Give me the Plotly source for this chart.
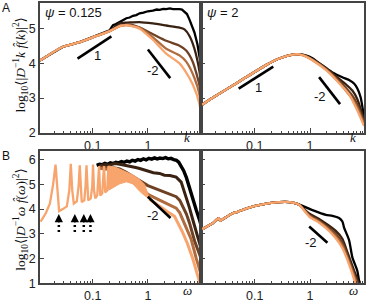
import numpy as np
import plotly.graph_objects as go

# ---------------- colours of the five series (black -> light orange) ----------
COLORS = ["#000000", "#3a2213", "#6e4124", "#b06b3e", "#f7a46d"]

# ---------------- Panel A, psi = 0.125 : x = log10 k, y = log10 <|D^-1 k f(k)|^2>
al_black_x = [-1.96, -1.538, -1.236, -0.933, -0.693, -0.66, -0.633, -0.58, -0.52, -0.45, -0.39, -0.33, -0.27, -0.21, -0.149, -0.08, 0.0, 0.091, 0.16, 0.213, 0.28, 0.334, 0.40, 0.454, 0.52, 0.575, 0.62, 0.665, 0.71, 0.756, 0.80, 0.846, 0.90, 0.937, 0.973]
al_black_y = [4.08, 4.48, 4.61, 4.79, 4.95, 5.04, 5.10, 5.13, 5.19, 5.24, 5.30, 5.32, 5.37, 5.39, 5.44, 5.46, 5.50, 5.52, 5.55, 5.54, 5.57, 5.56, 5.58, 5.56, 5.57, 5.56, 5.55, 5.49, 5.42, 5.26, 5.10, 4.89, 4.55, 4.20, 3.85]
al_dbrown_x = [-1.96, -1.538, -1.236, -0.933, -0.693, -0.6, -0.511, -0.42, -0.33, -0.149, 0.091, 0.334, 0.575, 0.665, 0.756, 0.846, 0.937, 0.973]
al_dbrown_y = [4.08, 4.48, 4.61, 4.79, 4.93, 5.05, 5.15, 5.17, 5.18, 5.19, 5.15, 5.09, 5.03, 4.98, 4.79, 4.42, 3.77, 3.30]
al_brown_x = [-1.96, -1.538, -1.236, -0.933, -0.693, -0.511, -0.39, -0.33, -0.149, 0.091, 0.334, 0.575, 0.696, 0.816, 0.937, 0.973]
al_brown_y = [4.08, 4.48, 4.61, 4.79, 4.93, 5.08, 5.11, 5.12, 5.03, 4.84, 4.65, 4.51, 4.37, 4.04, 3.37, 2.90]
al_lbrown_x = [-1.96, -1.538, -1.236, -0.933, -0.693, -0.511, -0.39, -0.33, -0.149, 0.091, 0.334, 0.575, 0.696, 0.846, 0.937, 0.973]
al_lbrown_y = [4.08, 4.48, 4.61, 4.79, 4.93, 5.07, 5.10, 5.09, 5.03, 4.75, 4.42, 4.23, 4.05, 3.58, 3.10, 2.50]
al_orange_x = [-1.96, -1.538, -1.236, -0.933, -0.693, -0.511, -0.39, -0.33, -0.149, 0.091, 0.334, 0.575, 0.665, 0.816, 0.937, 0.973]
al_orange_y = [4.08, 4.48, 4.61, 4.79, 4.93, 5.07, 5.10, 5.09, 5.00, 4.68, 4.28, 4.00, 3.81, 3.39, 2.83, 2.35]

# ---------------- Panel A, psi = 2
ar_black_x = [-1.947, -1.757, -1.276, -0.796, -0.556, -0.317, -0.196, -0.08, 0.043, 0.223, 0.403, 0.583, 0.703, 0.793, 0.853, 0.913, 0.973]
ar_black_y = [2.81, 3.01, 3.48, 3.95, 4.14, 4.25, 4.26, 4.23, 4.15, 3.93, 3.74, 3.60, 3.52, 3.42, 3.28, 3.02, 2.45]
ar_dbrown_x = [-1.947, -1.757, -1.276, -0.796, -0.556, -0.317, -0.196, -0.08, 0.043, 0.284, 0.464, 0.643, 0.763, 0.853, 0.973]
ar_dbrown_y = [2.81, 3.01, 3.48, 3.95, 4.14, 4.25, 4.26, 4.22, 4.12, 3.88, 3.63, 3.40, 3.22, 2.97, 2.38]
ar_brown_x = [-1.947, -1.757, -1.276, -0.796, -0.556, -0.317, -0.196, -0.08, 0.043, 0.284, 0.464, 0.643, 0.763, 0.853, 0.973]
ar_brown_y = [2.81, 3.01, 3.48, 3.95, 4.14, 4.25, 4.26, 4.21, 4.11, 3.85, 3.59, 3.30, 3.07, 2.82, 2.30]
ar_lbrown_x = [-1.947, -1.757, -1.276, -0.796, -0.556, -0.317, -0.196, -0.08, 0.043, 0.284, 0.464, 0.643, 0.763, 0.853, 0.973]
ar_lbrown_y = [2.81, 3.01, 3.48, 3.95, 4.14, 4.25, 4.26, 4.21, 4.10, 3.83, 3.56, 3.22, 2.97, 2.72, 2.25]
ar_orange_x = [-1.947, -1.757, -1.276, -0.796, -0.556, -0.317, -0.196, -0.08, 0.043, 0.284, 0.464, 0.703, 0.853, 0.973]
ar_orange_y = [2.81, 3.01, 3.48, 3.95, 4.14, 4.25, 4.26, 4.20, 4.09, 3.81, 3.53, 3.11, 2.64, 2.20]

# ---------------- Panel B, psi = 0.125 : x = log10 omega, y = log10 <|D^-1 w f(w)|^2>
bl_black_x = [-0.93, -0.88, -0.83, -0.78, -0.73, -0.68, -0.63, -0.58, -0.53, -0.48, -0.43, -0.38, -0.33, -0.28, -0.23, -0.18, -0.13, -0.08, -0.03, 0.02, 0.07, 0.12, 0.17, 0.22, 0.27, 0.32, 0.37, 0.42, 0.47, 0.52, 0.56, 0.60, 0.65, 0.70, 0.76, 0.82, 0.88, 0.94, 0.973]
bl_black_y = [5.77, 5.81, 5.79, 5.85, 5.81, 5.87, 5.84, 5.89, 5.87, 5.92, 5.89, 5.94, 5.91, 5.97, 5.94, 6.00, 5.97, 6.03, 5.99, 6.05, 6.02, 6.07, 6.03, 6.06, 6.04, 6.08, 6.03, 6.05, 6.00, 5.97, 5.90, 5.75, 5.55, 5.27, 4.80, 4.34, 3.95, 3.55, 3.30]
bl_dbrown_x = [-0.886, -0.78, -0.693, -0.6, -0.511, -0.4, -0.3, -0.22, -0.149, -0.07, 0.0, 0.1, 0.213, 0.3, 0.4, 0.515, 0.605, 0.65, 0.696, 0.756, 0.816, 0.9, 0.968]
bl_dbrown_y = [5.74, 5.80, 5.78, 5.84, 5.81, 5.77, 5.72, 5.68, 5.64, 5.58, 5.55, 5.47, 5.44, 5.37, 5.36, 5.29, 5.09, 4.80, 4.50, 4.05, 3.57, 2.95, 2.39]
bl_brown_x = [-0.886, -0.78, -0.693, -0.6, -0.511, -0.4, -0.3, -0.149, 0.0, 0.1, 0.213, 0.3, 0.4, 0.515, 0.58, 0.636, 0.7, 0.756, 0.85, 0.968]
bl_brown_y = [5.70, 5.70, 5.68, 5.66, 5.62, 5.50, 5.35, 5.15, 4.95, 4.86, 4.76, 4.68, 4.60, 4.50, 4.35, 4.10, 3.80, 3.44, 2.70, 1.99]
bl_lbrown_x = [-0.886, -0.78, -0.693, -0.6, -0.511, -0.4, -0.3, -0.149, 0.0, 0.213, 0.4, 0.515, 0.58, 0.636, 0.7, 0.786, 0.88, 0.968]
bl_lbrown_y = [5.65, 5.63, 5.60, 5.56, 5.49, 5.30, 5.12, 4.89, 4.60, 4.36, 4.15, 4.04, 3.85, 3.57, 3.25, 2.78, 2.00, 1.34]
bl_orange_x = [-1.947, -1.851, -1.779, -1.719, -1.676, -1.647, -1.611, -1.544, -1.471, -1.426, -1.399, -1.372, -1.344, -1.29, -1.257, -1.236, -1.218, -1.2, -1.154, -1.131, -1.114, -1.1, -1.082, -1.037, -1.009, -0.995, -0.977, -0.955, -0.919, -0.886, -0.865, -0.828, -0.796, -0.774, -0.738, -0.716, -0.693]
bl_orange_y = [3.49, 3.84, 4.22, 5.01, 5.80, 4.75, 3.92, 4.00, 4.11, 4.75, 5.83, 4.75, 4.22, 4.31, 4.94, 5.77, 4.75, 4.28, 4.35, 4.94, 5.77, 4.75, 4.35, 4.43, 4.94, 5.80, 4.75, 4.43, 4.55, 5.74, 4.55, 4.63, 5.74, 4.67, 4.75, 5.74, 4.80]
bl_band_upper_x = [-0.716, -0.6, -0.511, -0.39, -0.271, -0.149, -0.06, 0.03]
bl_band_upper_y = [5.74, 5.70, 5.62, 5.50, 5.38, 5.20, 5.00, 4.42]
bl_band_lower_x = [-0.716, -0.693, -0.6, -0.511, -0.39, -0.271, -0.149, -0.06, 0.03]
bl_band_lower_y = [4.76, 4.80, 4.92, 5.02, 5.10, 5.02, 4.72, 4.55, 4.40]
bl_orange_tail_x = [0.03, 0.213, 0.35, 0.484, 0.634, 0.72, 0.816, 0.937, 0.973]
bl_orange_tail_y = [4.40, 4.10, 3.90, 3.71, 3.05, 2.60, 1.99, 1.07, 0.70]

# ---------------- Panel B, psi = 2
br_black_x = [-1.947, -1.757, -1.649, -1.623, -1.546, -1.397, -1.307, -1.156, -0.857, -0.556, -0.376, -0.196, 0.043, 0.284, 0.403, 0.523, 0.583, 0.613, 0.703, 0.763, 0.853, 0.883, 0.92]
br_black_y = [3.19, 3.43, 3.63, 3.52, 3.63, 3.83, 3.89, 4.02, 4.19, 4.28, 4.28, 4.18, 3.96, 3.77, 3.73, 3.64, 3.50, 3.25, 2.75, 2.05, 1.50, 1.12, 0.85]
br_dbrown_x = [-1.947, -1.757, -1.649, -1.623, -1.546, -1.397, -1.307, -1.156, -0.857, -0.556, -0.376, -0.196, -0.017, 0.163, 0.284, 0.464, 0.583, 0.644, 0.793, 0.883, 0.9]
br_dbrown_y = [3.19, 3.43, 3.63, 3.52, 3.63, 3.83, 3.89, 4.02, 4.19, 4.28, 4.28, 4.18, 3.82, 3.60, 3.42, 3.12, 2.80, 2.44, 1.52, 1.00, 0.90]
br_brown_x = [-1.947, -1.757, -1.649, -1.623, -1.546, -1.397, -1.307, -1.156, -0.857, -0.556, -0.376, -0.196, -0.017, 0.163, 0.284, 0.464, 0.583, 0.733, 0.823, 0.88]
br_brown_y = [3.19, 3.43, 3.63, 3.52, 3.63, 3.83, 3.89, 4.02, 4.19, 4.28, 4.28, 4.18, 3.77, 3.53, 3.33, 3.00, 2.65, 1.75, 1.20, 0.90]
br_lbrown_x = [-1.947, -1.757, -1.649, -1.623, -1.546, -1.397, -1.307, -1.156, -0.857, -0.556, -0.376, -0.196, -0.017, 0.163, 0.284, 0.464, 0.583, 0.703, 0.793, 0.85]
br_lbrown_y = [3.19, 3.43, 3.63, 3.52, 3.63, 3.83, 3.89, 4.02, 4.19, 4.28, 4.28, 4.17, 3.73, 3.49, 3.28, 2.90, 2.52, 1.85, 1.30, 0.95]
br_orange_x = [-1.947, -1.757, -1.649, -1.623, -1.546, -1.397, -1.307, -1.156, -0.857, -0.556, -0.376, -0.196, -0.017, 0.163, 0.284, 0.464, 0.583, 0.673, 0.763, 0.82]
br_orange_y = [3.19, 3.43, 3.63, 3.52, 3.63, 3.83, 3.89, 4.02, 4.19, 4.28, 4.28, 4.17, 3.70, 3.45, 3.24, 2.82, 2.42, 1.95, 1.38, 0.95]

# ---------------- reference slope segments (endpoints in data units)
slope_al1_x, slope_al1_y = [-1.277, -0.662], [4.138, 4.775]
slope_al2_x, slope_al2_y = [0.001, 0.406], [4.399, 3.576]
slope_ar1_x, slope_ar1_y = [-1.289, -0.664], [3.275, 3.904]
slope_ar2_x, slope_ar2_y = [0.163, 0.541], [3.604, 2.826]
slope_bl2_x, slope_bl2_y = [0.0, 0.412], [4.498, 3.640]
slope_br2_x, slope_br2_y = [-0.016, 0.313], [3.296, 2.640]

# resonance arrows in panel B (log10 omega)
arrow_x = [-1.616, -1.326, -1.163, -1.042]
arrow_head_y, arrow_tail_y = 3.80, 3.40
dots_top_y, dots_bottom_y = 3.36, 2.98

# axis ticks
x_major = [0.1, 1]
x_major_text = ["0.1", "1"]
x_minor = [0.02, 0.03, 0.04, 0.05, 0.06, 0.07, 0.08, 0.09,
           0.2, 0.3, 0.4, 0.5, 0.6, 0.7, 0.8, 0.9,
           2, 3, 4, 5, 6, 7, 8, 9]
ya_ticks = [2, 3, 4, 5]
yb_ticks = [1, 2, 3, 4, 5, 6]
x_range = [-1.96, 0.973]
ya_range = [2, 5.74]
yb_range = [1, 6.33]

W, H = 366, 304
fig = go.Figure()


def line(xlog, y, color, xa, ya, width=2.3, shape="linear"):
    fig.add_trace(go.Scatter(
        x=np.power(10.0, np.array(xlog)), y=y, mode="lines",
        line=dict(color=color, width=width, shape=shape, smoothing=0.6 if shape == "spline" else None),
        xaxis=xa, yaxis=ya, showlegend=False, hoverinfo="skip"))


# Panel A left
for (xs, ys), c in zip([(al_black_x, al_black_y), (al_dbrown_x, al_dbrown_y), (al_brown_x, al_brown_y),
                        (al_lbrown_x, al_lbrown_y), (al_orange_x, al_orange_y)], COLORS):
    line(xs, ys, c, "x", "y", shape="linear" if c == "#000000" else "spline")
# Panel A right
for (xs, ys), c in zip([(ar_black_x, ar_black_y), (ar_dbrown_x, ar_dbrown_y), (ar_brown_x, ar_brown_y),
                        (ar_lbrown_x, ar_lbrown_y), (ar_orange_x, ar_orange_y)], COLORS):
    line(xs, ys, c, "x2", "y2", shape="spline")
# Panel B left
line(bl_black_x, bl_black_y, COLORS[0], "x3", "y3", width=3.4)
line(bl_dbrown_x, bl_dbrown_y, COLORS[1], "x3", "y3", width=3)
line(bl_brown_x, bl_brown_y, COLORS[2], "x3", "y3", width=3)
line(bl_lbrown_x, bl_lbrown_y, COLORS[3], "x3", "y3", width=3)
band_x = list(bl_band_upper_x) + list(bl_band_lower_x[::-1])
band_y = list(bl_band_upper_y) + list(bl_band_lower_y[::-1])
fig.add_trace(go.Scatter(x=np.power(10.0, np.array(band_x)), y=band_y, mode="lines", fill="toself",
                         fillcolor=COLORS[4], line=dict(color=COLORS[4], width=1),
                         xaxis="x3", yaxis="y3", showlegend=False, hoverinfo="skip"))
line(bl_orange_x, bl_orange_y, COLORS[4], "x3", "y3", width=2.3)
line(bl_orange_tail_x, bl_orange_tail_y, COLORS[4], "x3", "y3", width=3)
# Panel B right
for (xs, ys), c in zip([(br_black_x, br_black_y), (br_dbrown_x, br_dbrown_y), (br_brown_x, br_brown_y),
                        (br_lbrown_x, br_lbrown_y), (br_orange_x, br_orange_y)], COLORS):
    line(xs, ys, c, "x4", "y4", shape="spline")

# slope segments
for (sx, sy, xa, ya) in [(slope_al1_x, slope_al1_y, "x", "y"), (slope_al2_x, slope_al2_y, "x", "y"),
                         (slope_ar1_x, slope_ar1_y, "x2", "y2"), (slope_ar2_x, slope_ar2_y, "x2", "y2"),
                         (slope_bl2_x, slope_bl2_y, "x3", "y3"), (slope_br2_x, slope_br2_y, "x4", "y4")]:
    line(sx, sy, "#000000", xa, ya, width=2.6)

# dotted stems below arrows
for ax_ in arrow_x:
    fig.add_trace(go.Scatter(x=[10 ** ax_, 10 ** ax_], y=[dots_top_y, dots_bottom_y], mode="lines",
                             line=dict(color="#000000", width=2.5, dash="2px,3px"),
                             xaxis="x3", yaxis="y3", showlegend=False, hoverinfo="skip"))

FRAME = "#444444"
TICKFONT = dict(family="Liberation Sans, Arial, sans-serif", size=12.5, color="#222222")


def xaxis(dom, anchor):
    return dict(domain=dom, anchor=anchor, type="log", range=x_range, showline=True, linecolor=FRAME,
                linewidth=1.5, mirror=True, ticks="inside", ticklen=5, tickwidth=1, tickcolor=FRAME,
                tickvals=x_major, ticktext=x_major_text, tickfont=TICKFONT, showgrid=False, zeroline=False,
                minor=dict(ticks="inside", ticklen=2.5, tickwidth=1, tickcolor=FRAME, tickvals=x_minor,
                           showgrid=False))


def yaxis(dom, anchor, rng, tv, labels):
    return dict(domain=dom, anchor=anchor, range=rng, showline=True, linecolor=FRAME, linewidth=1.5,
                mirror=True, ticks="inside", ticklen=4, tickwidth=1, tickcolor=FRAME, tickvals=tv,
                showticklabels=labels, tickfont=TICKFONT, showgrid=False, zeroline=False)


xl = [40 / W, 202 / W]
xr = [202 / W, 365 / W]
ya = [1 - 136 / H, 1 - 3 / H]
yb = [1 - 290 / H, 1 - 155 / H]

annotations = []


def txt(px, py, s, size=12, family="Liberation Sans, Arial, sans-serif", angle=0, xanchor="center"):
    annotations.append(dict(x=px / W, y=1 - py / H, xref="paper", yref="paper", text=s, showarrow=False,
                            font=dict(family=family, size=size, color="#111111"), textangle=angle,
                            xanchor=xanchor, yanchor="middle"))


SERIF = "Liberation Serif, DejaVu Serif, serif"
txt(6, 8, "A", 12)
txt(6, 160, "B", 12)
txt(43, 13, "<i>ψ</i> = 0.125", 13, xanchor="left")
txt(206, 13, "<i>ψ</i> = 2", 13, xanchor="left")
txt(98, 57, "1", 13)
txt(153, 72, "-2", 13)
txt(259, 90, "1", 13)
txt(321, 99, "-2", 13)
txt(153, 221, "-2", 13)
txt(312, 248, "-2", 13)
txt(188, 141, "<i>k</i>", 13, family=SERIF)
txt(354, 141, "<i>k</i>", 13, family=SERIF)
txt(188, 297, "<i>ω</i>", 13, family=SERIF)
txt(354, 297, "<i>ω</i>", 13, family=SERIF)
txt(21, 66, "log<sub>10</sub>⟨|<i>D</i><sup>−1</sup><i>k</i> <i>f̂</i>(<i>k</i>)|<sup>2</sup>⟩", 13.5, family=SERIF, angle=-90)
txt(21, 225, "log<sub>10</sub>⟨|<i>D</i><sup>−1</sup><i>ω</i> <i>f̂</i>(<i>ω</i>)|<sup>2</sup>⟩", 13.5, family=SERIF, angle=-90)

for ax_ in arrow_x:
    annotations.append(dict(x=ax_, y=arrow_head_y, xref="x3", yref="y3", ax=ax_, ay=arrow_tail_y,
                            axref="x3", ayref="y3", showarrow=True, arrowhead=2, arrowsize=1.1,
                            arrowwidth=1.5, arrowcolor="#000000", text=""))

fig.update_layout(
    width=W, height=H, margin=dict(l=0, r=0, t=0, b=0),
    paper_bgcolor="white", plot_bgcolor="white",
    xaxis=xaxis(xl, "y"), yaxis=yaxis(ya, "x", ya_range, ya_ticks, True),
    xaxis2=xaxis(xr, "y2"), yaxis2=yaxis(ya, "x2", ya_range, ya_ticks, False),
    xaxis3=xaxis(xl, "y3"), yaxis3=yaxis(yb, "x3", yb_range, yb_ticks, True),
    xaxis4=xaxis(xr, "y4"), yaxis4=yaxis(yb, "x4", yb_range, yb_ticks, False),
    annotations=annotations,
)

fig.write_html("out.html", config={"displayModeBar": False},
               post_script="document.body.style.margin='0';document.body.style.overflow='hidden';")
